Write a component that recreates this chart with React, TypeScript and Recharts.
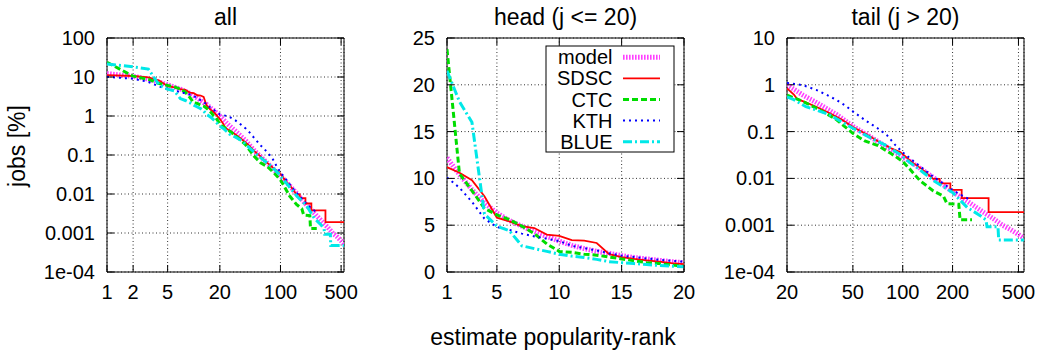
import React from 'react';
import { LineChart, Line, XAxis, YAxis, CartesianGrid, ReferenceArea } from 'recharts';

// ranks 1..20 (head) are shared by every series
const headRanks = [1, 2, 3, 4, 5, 6, 7, 8, 9, 10, 11, 12, 13, 14, 15, 16, 17, 18, 19, 20];

const modelHead = [12.2, 10.4, 8.8, 7.4, 6.3, 5.5, 4.9, 4.3, 3.8, 3.3, 2.85, 2.5, 2.2, 2.0, 1.75, 1.55, 1.4, 1.25, 1.1, 1.0];
const sdscHead = [11.2, 10.6, 9.8, 8.1, 5.8, 5.4, 4.9, 4.7, 4.0, 3.85, 3.4, 3.35, 3.1, 1.9, 1.6, 1.4, 1.25, 1.1, 0.95, 0.84];
const ctcHead = [23.8, 10.5, 8.7, 6.8, 6.1, 5.6, 4.9, 4.1, 3.0, 2.2, 2.1, 1.9, 1.8, 1.6, 1.4, 1.2, 1.0, 0.9, 0.75, 0.6];
const kthHead = [10.1, 9.0, 7.5, 5.7, 4.8, 4.5, 4.1, 3.8, 3.55, 3.3, 2.8, 2.55, 2.3, 2.0, 1.75, 1.6, 1.45, 1.3, 1.2, 1.1];
const blueHead = [21.5, 18.2, 16.0, 6.2, 4.9, 4.4, 2.8, 2.5, 2.2, 1.9, 1.7, 1.55, 1.35, 1.1, 1.0, 0.9, 0.8, 0.7, 0.62, 0.55];

// tail: [rank, jobs %] for rank > 20
const modelTail: [number, number][] = [
  [25, 0.6], [30, 0.42], [40, 0.23], [50, 0.13], [60, 0.088], [70, 0.063], [80, 0.047], [100, 0.029],
  [120, 0.019], [150, 0.011], [200, 0.0052], [250, 0.0031], [300, 0.002], [350, 0.0014], [400, 0.001],
  [450, 0.0008], [500, 0.00063], [540, 0.00053],
];
const sdscTail: [number, number][] = [
  [22, 0.62], [23, 0.5], [26, 0.42], [30, 0.34], [36, 0.25], [43, 0.18], [50, 0.125], [59, 0.092],
  [71, 0.062], [85, 0.044], [97, 0.036], [114, 0.022], [130, 0.016], [153, 0.0098], [167, 0.0098],
  [167, 0.0078], [194, 0.0078], [194, 0.0057], [227, 0.0057], [227, 0.0038], [330, 0.0038],
  [330, 0.0019], [540, 0.0019],
];
const ctcTail: [number, number][] = [
  [25, 0.44], [31, 0.3], [39, 0.19], [50, 0.092], [59, 0.063], [71, 0.05], [85, 0.034], [100, 0.023],
  [110, 0.016], [127, 0.009], [153, 0.0054], [176, 0.0042], [185, 0.0029], [218, 0.0028], [222, 0.0013],
  [262, 0.0013],
];
const kthTail: [number, number][] = [
  [25, 0.98], [30, 0.78], [35, 0.6], [40, 0.47], [45, 0.36], [50, 0.27], [60, 0.17], [70, 0.12],
  [80, 0.085], [90, 0.052], [100, 0.036], [115, 0.024], [130, 0.017], [152, 0.011], [170, 0.0085],
  [191, 0.0062], [220, 0.0046], [252, 0.0036],
];
const blueTail: [number, number][] = [
  [22, 0.48], [26, 0.34], [30, 0.29], [36, 0.23], [43, 0.16], [50, 0.118], [62, 0.078], [78, 0.052],
  [97, 0.032], [110, 0.022], [122, 0.017], [154, 0.0089], [200, 0.005], [245, 0.0024], [294, 0.0016],
  [318, 0.0013], [323, 0.00093], [376, 0.00093], [380, 0.00048], [540, 0.00048],
];

const allXTicks = [1, 2, 5, 20, 100, 500];
const headXTicks = [1, 5, 10, 15, 20];
const tailXTicks = [20, 50, 100, 200, 500];
const allYTicks = [1e-4, 0.001, 0.01, 0.1, 1, 10, 100];
const headYTicks = [0, 5, 10, 15, 20, 25];
const tailYTicks = [1e-4, 0.001, 0.01, 0.1, 1, 10];
const allYMinor = [2e-4, 5e-4, 2e-3, 5e-3, 0.02, 0.05, 0.2, 0.5, 2, 5, 20, 50];
const tailYMinor = [2e-4, 5e-4, 2e-3, 5e-3, 0.02, 0.05, 0.2, 0.5, 2, 5];

const FONT = '"Liberation Sans", Arial, Helvetica, sans-serif';
const CHART_H = 316;
const PLOT_LEFT = 107;
const PLOT_TOP = 38;
const PLOT_W = 237;
const PLOT_BOTTOM = 272;
const PLOT_RIGHT = PLOT_LEFT + PLOT_W;
const Y_AXIS_W = 60;
const X_AXIS_H = 28;

const series = [
  { name: 'model', head: modelHead, tail: modelTail, color: '#ff40ff', width: 5, dash: '1.6 1.4' },
  { name: 'SDSC', head: sdscHead, tail: sdscTail, color: '#ff0000', width: 1.8, dash: undefined },
  { name: 'CTC', head: ctcHead, tail: ctcTail, color: '#00dd00', width: 3, dash: '6 3' },
  { name: 'KTH', head: kthHead, tail: kthTail, color: '#0000ff', width: 2, dash: '2 4' },
  { name: 'BLUE', head: blueHead, tail: blueTail, color: '#00e8e8', width: 3, dash: '9 3 2 3' },
];

type Pt = { x: number; y: number };

const pointsOf = (s: (typeof series)[number]): Pt[] => [
  ...headRanks.map((r, i) => ({ x: r, y: s.head[i] })),
  ...s.tail.map(([r, v]) => ({ x: r, y: v })),
];

const fmt = (v: number) => (v === 1e-4 ? '1e-04' : String(v));

const XTick = (props: any) => {
  const { x, payload } = props;
  return (
    <g>
      <line x1={x} x2={x} y1={PLOT_BOTTOM} y2={PLOT_BOTTOM - 7} stroke="#000" />
      <line x1={x} x2={x} y1={PLOT_TOP} y2={PLOT_TOP + 7} stroke="#000" />
      <text x={x} y={299} textAnchor="middle" fontSize={20} fontFamily={FONT} fill="#000">
        {fmt(payload.value)}
      </text>
    </g>
  );
};

const YTick = (props: any) => {
  const { y, payload } = props;
  return (
    <g>
      <line x1={PLOT_LEFT} x2={PLOT_LEFT + 7} y1={y} y2={y} stroke="#000" />
      <line x1={PLOT_RIGHT} x2={PLOT_RIGHT - 7} y1={y} y2={y} stroke="#000" />
      <text x={PLOT_LEFT - 12} y={y + 7} textAnchor="end" fontSize={20} fontFamily={FONT} fill="#000">
        {fmt(payload.value)}
      </text>
    </g>
  );
};

const MinorTick = (props: any) => {
  const { y } = props;
  return (
    <g>
      <line x1={PLOT_LEFT} x2={PLOT_LEFT + 4} y1={y} y2={y} stroke="#000" />
      <line x1={PLOT_RIGHT} x2={PLOT_RIGHT - 4} y1={y} y2={y} stroke="#000" />
    </g>
  );
};

interface PanelProps {
  left: number;
  width: number;
  xScale: 'log' | 'linear';
  xDomain: [number, number];
  xTicks: number[];
  yScale: 'log' | 'linear';
  yDomain: [number, number];
  yTicks: number[];
  yMinor?: number[];
  keep: (p: Pt) => boolean;
}

function Panel({ left, width, xScale, xDomain, xTicks, yScale, yDomain, yTicks, yMinor, keep }: PanelProps) {
  return (
    <div style={{ position: 'absolute', left, top: 0 }}>
      <LineChart
        width={width}
        height={CHART_H}
        margin={{
          top: PLOT_TOP,
          right: width - PLOT_RIGHT,
          bottom: CHART_H - PLOT_BOTTOM - X_AXIS_H,
          left: PLOT_LEFT - Y_AXIS_W,
        }}
      >
        <CartesianGrid stroke="#333" strokeDasharray="1 2.5" />
        <XAxis
          dataKey="x"
          type="number"
          scale={xScale}
          domain={xDomain}
          ticks={xTicks}
          interval={0}
          allowDataOverflow
          height={X_AXIS_H}
          axisLine={false}
          tickLine={false}
          tick={<XTick />}
        />
        <YAxis
          type="number"
          scale={yScale}
          domain={yDomain}
          ticks={yTicks}
          interval={0}
          allowDataOverflow
          width={Y_AXIS_W}
          axisLine={false}
          tickLine={false}
          tick={<YTick />}
        />
        {yMinor && (
          <YAxis
            yAxisId="minor"
            type="number"
            scale={yScale}
            domain={yDomain}
            ticks={yMinor}
            interval={0}
            allowDataOverflow
            width={0}
            axisLine={false}
            tickLine={false}
            tick={<MinorTick />}
          />
        )}
        <ReferenceArea
          x1={xDomain[0]}
          x2={xDomain[1]}
          y1={yDomain[0]}
          y2={yDomain[1]}
          fill="none"
          fillOpacity={0}
          stroke="#000"
          strokeWidth={1}
          ifOverflow="visible"
        />
        {series.map((s) => (
          <Line
            key={s.name}
            data={pointsOf(s).filter(keep)}
            dataKey="y"
            name={s.name}
            type="linear"
            stroke={s.color}
            strokeWidth={s.width}
            strokeDasharray={s.dash}
            strokeLinecap="butt"
            dot={false}
            activeDot={false}
            isAnimationActive={false}
          />
        ))}
      </LineChart>
    </div>
  );
}

function LegendBox() {
  const rows = series.map((s, i) => ({ ...s, cy: 57.3 + i * 21.1 }));
  return (
    <g>
      <rect x={546} y={46} width={128} height={106} fill="#fff" stroke="#000" />
      {rows.map((r) => (
        <g key={r.name}>
          <text x={612.5} y={r.cy + 7} textAnchor="end" fontSize={20} fontFamily={FONT} fill="#000">
            {r.name}
          </text>
          <line
            x1={623}
            x2={660}
            y1={r.cy}
            y2={r.cy}
            stroke={r.color}
            strokeWidth={r.width}
            strokeDasharray={r.dash}
          />
        </g>
      ))}
    </g>
  );
}

export default function App() {
  return (
    <div style={{ position: 'absolute', left: 0, top: 0, width: 1042, height: 358, background: '#fff', fontFamily: FONT }}>
      <Panel
        left={0}
        width={360}
        xScale="log"
        xDomain={[1, 540]}
        xTicks={allXTicks}
        yScale="log"
        yDomain={[1e-4, 100]}
        yTicks={allYTicks}
        yMinor={allYMinor}
        keep={() => true}
      />
      <Panel
        left={340}
        width={360}
        xScale="linear"
        xDomain={[1, 20]}
        xTicks={headXTicks}
        yScale="linear"
        yDomain={[0, 25]}
        yTicks={headYTicks}
        keep={(p) => p.x <= 20}
      />
      <Panel
        left={680}
        width={362}
        xScale="log"
        xDomain={[20, 540]}
        xTicks={tailXTicks}
        yScale="log"
        yDomain={[1e-4, 10]}
        yTicks={tailYTicks}
        yMinor={tailYMinor}
        keep={(p) => p.x >= 20}
      />
      <svg width={1042} height={358} style={{ position: 'absolute', left: 0, top: 0, pointerEvents: 'none' }}>
        <text x={225.5} y={25} textAnchor="middle" fontSize={23} fontFamily={FONT}>all</text>
        <text x={565.5} y={25} textAnchor="middle" fontSize={23} fontFamily={FONT}>head (j &lt;= 20)</text>
        <text x={905.5} y={25} textAnchor="middle" fontSize={23} fontFamily={FONT}>tail (j &gt; 20)</text>
        <text x={25} y={146} textAnchor="middle" fontSize={23} fontFamily={FONT} transform="rotate(-90 25 146)">
          jobs [%]
        </text>
        <text x={553} y={345} textAnchor="middle" fontSize={23} fontFamily={FONT}>estimate popularity-rank</text>
        <LegendBox />
      </svg>
    </div>
  );
}
